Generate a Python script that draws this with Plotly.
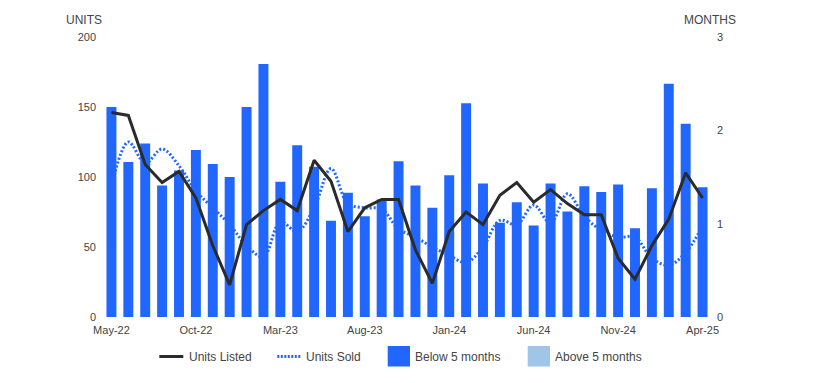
import plotly.graph_objects as go

# ---------------- data ----------------
months = ["May-22", "Jun-22", "Jul-22", "Aug-22", "Sep-22", "Oct-22", "Nov-22", "Dec-22",
          "Jan-23", "Feb-23", "Mar-23", "Apr-23", "May-23", "Jun-23", "Jul-23", "Aug-23",
          "Sep-23", "Oct-23", "Nov-23", "Dec-23", "Jan-24", "Feb-24", "Mar-24", "Apr-24",
          "May-24", "Jun-24", "Jul-24", "Aug-24", "Sep-24", "Oct-24", "Nov-24", "Dec-24",
          "Jan-25", "Feb-25", "Mar-25", "Apr-25"]

units_listed = [146, 144, 109, 96, 104, 85, 51, 23, 66, 76, 84, 76,
                112, 97, 61, 78, 84, 84, 48, 24, 61, 75, 66, 87,
                96, 82, 91, 81, 73, 73, 42, 27, 51, 70, 103, 85]

units_sold = [93, 125, 110, 120, 108, 90, 78, 66, 51, 43, 68, 61,
              78, 106, 81, 78, 77, 63, 57, 50, 44, 39, 50, 69,
              66, 80, 67, 88, 72, 62, 57, 57, 42, 37, 46, 65]

months_supply = [2.25, 1.66, 1.86, 1.41, 1.57, 1.79, 1.64, 1.50, 2.25, 2.71, 1.45, 1.84,
                 1.61, 1.03, 1.33, 1.08, 1.26, 1.67, 1.41, 1.17, 1.52, 2.29, 1.43, 1.01,
                 1.23, 0.98, 1.43, 1.13, 1.40, 1.34, 1.42, 0.95, 1.38, 2.50, 2.07, 1.39]

threshold = 5
below_5 = [v if v < threshold else None for v in months_supply]
above_5 = [v if v >= threshold else None for v in months_supply]

x_ticks = ["May-22", "Oct-22", "Mar-23", "Aug-23", "Jan-24", "Jun-24", "Nov-24", "Apr-25"]
left_ticks = [0, 50, 100, 150, 200]
right_ticks = [0, 1, 2, 3]

# ---------------- style ----------------
OFF = 8  # page body margin in the browser
W, H = 813 - OFF, 383 - OFF
ML, MT = 103 - OFF, 37 - OFF
PW, PH = 608, 280
MR, MB = W - ML - PW, H - MT - PH
FONT = "Liberation Sans, Arial, sans-serif"
TXT = "#444444"
BLUE = "#2167ff"
LIGHT = "#9fc5e8"
DARK = "#2b2b2b"


def px_x(px):
    """reference-window pixel x -> paper coordinate"""
    return (px - OFF - ML) / PW


def px_y(py):
    """reference-window pixel y -> paper coordinate"""
    return (MT + PH - (py - OFF)) / PH


fig = go.Figure()

fig.add_trace(go.Scatter(
    x=months, y=units_sold, name="Units Sold", mode="lines",
    line=dict(color=BLUE, width=3, dash="2px,2px", shape="spline", smoothing=1),
    yaxis="y", showlegend=False))

fig.add_trace(go.Bar(
    x=months, y=below_5, name="Below 5 months", marker=dict(color=BLUE, line_width=0),
    yaxis="y2", showlegend=False))
fig.add_trace(go.Bar(
    x=months, y=above_5, name="Above 5 months", marker=dict(color=LIGHT, line_width=0),
    yaxis="y2", showlegend=False))

fig.add_trace(go.Scatter(
    x=months, y=units_listed, name="Units Listed", mode="lines",
    line=dict(color=DARK, width=3),
    yaxis="y3", showlegend=False))

axis_font = dict(family=FONT, size=11, color=TXT)

fig.update_layout(
    width=W, height=H,
    margin=dict(l=ML, r=MR, t=MT, b=MB, pad=0),
    paper_bgcolor="white", plot_bgcolor="white",
    font=dict(family=FONT, size=12, color=TXT),
    barmode="relative", bargap=0.41,
    showlegend=False,
    xaxis=dict(type="category", range=[-0.5, len(months) - 0.5],
               tickmode="array", tickvals=x_ticks, ticktext=x_ticks,
               showgrid=False, zeroline=False, showline=False, ticks="",
               ticklabelstandoff=5, tickfont=axis_font),
    yaxis=dict(range=[0, 200], tickmode="array", tickvals=left_ticks,
               showgrid=False, zeroline=False, showline=False, ticks="",
               ticklabelstandoff=6, tickfont=axis_font),
    yaxis2=dict(range=[0, 3], tickmode="array", tickvals=right_ticks,
                overlaying="y", side="right",
                showgrid=False, zeroline=False, showline=False, ticks="",
                ticklabelstandoff=5, tickfont=axis_font),
    yaxis3=dict(range=[0, 200], overlaying="y", visible=False,
                showgrid=False, zeroline=False),
)

annotations = [
    dict(text="UNITS", x=px_x(84.2), y=px_y(20.5), xanchor="center", yanchor="middle"),
    dict(text="MONTHS", x=px_x(710.4), y=px_y(20.5), xanchor="center", yanchor="middle"),
]

# legend (drawn manually to match reference symbol sizes)
LEG_Y = 356.5
legend_items = [
    ("Units Listed", "line", 159.3, 183.3, 186.5),
    ("Units Sold", "dot", 277.3, 301.7, 304.3),
    ("Below 5 months", "box", 387.7, 410.0, 413.3),
    ("Above 5 months", "box_light", 527.7, 550.0, 553.3),
]
shapes = []
for label, kind, a, b, tx in legend_items:
    if kind == "line":
        shapes.append(dict(type="line", xref="paper", yref="paper",
                           x0=px_x(a), x1=px_x(b), y0=px_y(LEG_Y), y1=px_y(LEG_Y),
                           line=dict(color=DARK, width=3)))
    elif kind == "dot":
        shapes.append(dict(type="line", xref="paper", yref="paper",
                           x0=px_x(a), x1=px_x(b), y0=px_y(LEG_Y), y1=px_y(LEG_Y),
                           line=dict(color=BLUE, width=3, dash="2px,1.5px")))
    else:
        col = BLUE if kind == "box" else LIGHT
        shapes.append(dict(type="rect", xref="paper", yref="paper",
                           x0=px_x(a), x1=px_x(b), y0=px_y(346), y1=px_y(366.5),
                           fillcolor=col, line=dict(width=0)))
    annotations.append(dict(text=label, x=px_x(tx), y=px_y(LEG_Y),
                            xanchor="left", yanchor="middle"))

for a in annotations:
    a.update(xref="paper", yref="paper", showarrow=False,
             font=dict(family=FONT, size=12, color=TXT))

fig.update_layout(annotations=annotations, shapes=shapes)

fig.write_html("out.html")
